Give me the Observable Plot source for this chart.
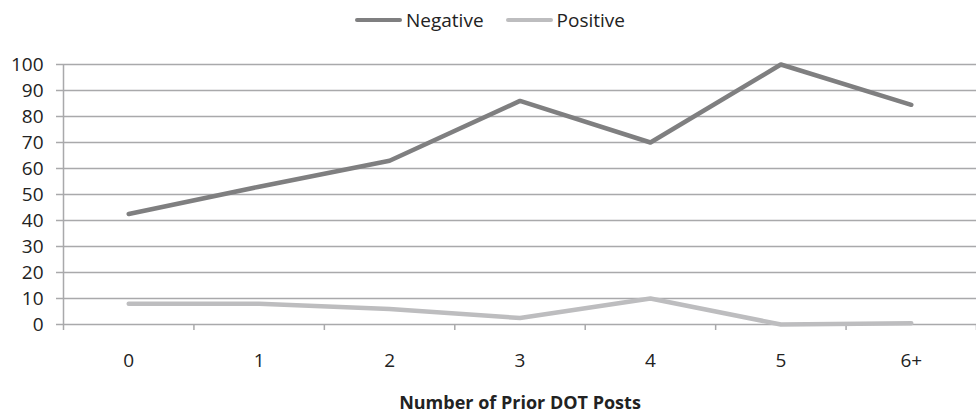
<!DOCTYPE html>
<html><head><meta charset="utf-8">
<script src="https://cdn.jsdelivr.net/npm/d3@7"></script>
<script src="https://cdn.jsdelivr.net/npm/@observablehq/plot@0.6"></script>
<style>
body{margin:0;background:#fff;font-family:"Open Sans",sans-serif;}
#legend{height:40px;display:flex;justify-content:center;align-items:center;gap:22px;font-size:19px;color:#222;padding-left:4px;box-sizing:border-box}
.item{display:flex;align-items:center;gap:4px}
.sw{width:47px;height:4.5px;border-radius:2px}
</style></head><body>
<div id="legend"></div><div id="chart"></div>
<script>
const categories = ["0","1","2","3","4","5","6+"];
const negative = [42.5, 53, 63, 86, 70, 100, 84.5];
const positive = [8, 8, 6, 2.5, 10, 0, 0.5];
const yTicks = [0,10,20,30,40,50,60,70,80,90,100];
const seriesNames = ["Negative","Positive"];
const seriesColors = ["#7f7f80","#bdbdbf"];
const xTitle = "Number of Prior DOT Posts";

const gridColor = "#a9a9ab";
const textColor = "#222";

const legend = document.getElementById("legend");
seriesNames.forEach((n,k)=>{
  const it = document.createElement("div"); it.className="item";
  const sw = document.createElement("div"); sw.className="sw"; sw.style.background=seriesColors[k];
  const t = document.createElement("span"); t.textContent=n;
  it.append(sw,t); legend.append(it);
});

const negRows = categories.map((c,i)=>({i, value: negative[i]}));
const posRows = categories.map((c,i)=>({i, value: positive[i]}));
const boundaries = d3.range(categories.length+1).map(i=>i-0.5);

const chart = Plot.plot({
  width: 976, height: 375,
  marginLeft: 63, marginRight: 0, marginTop: 24, marginBottom: 91,
  style: {fontFamily: "Open Sans, sans-serif", fontSize: "19px", color: textColor, background: "#fff"},
  x: {type: "linear", domain: [-0.5, categories.length - 0.5], axis: null},
  y: {domain: [0, 100], axis: null},
  marks: [
    Plot.gridY(yTicks, {stroke: gridColor, strokeOpacity: 1, strokeWidth: 1.5}),
    Plot.ruleX([-0.5], {stroke: gridColor, strokeWidth: 1.5}),
    Plot.axisY({ticks: yTicks, tickSize: 7, tickPadding: 13, stroke: gridColor, strokeWidth: 1.5, fill: textColor, fontSize: 19, label: null}),
    Plot.axisX({ticks: boundaries, tickFormat: () => "", tickSize: 6, stroke: gridColor, strokeWidth: 1.5, label: null}),
    Plot.axisX({ticks: categories.map((c,i)=>i), tickFormat: i => categories[i], tickSize: 0, tickPadding: 29, fill: textColor, fontSize: 19, label: null}),
    Plot.line(negRows, {x: "i", y: "value", stroke: seriesColors[0], strokeWidth: 4.5}),
    Plot.line(posRows, {x: "i", y: "value", stroke: seriesColors[1], strokeWidth: 4.5}),
    Plot.text([xTitle], {frameAnchor: "bottom", dy: 84, fontWeight: "bold", fontSize: 18, fill: textColor})
  ]
});
document.getElementById("chart").append(chart);
</script>
</body></html>
